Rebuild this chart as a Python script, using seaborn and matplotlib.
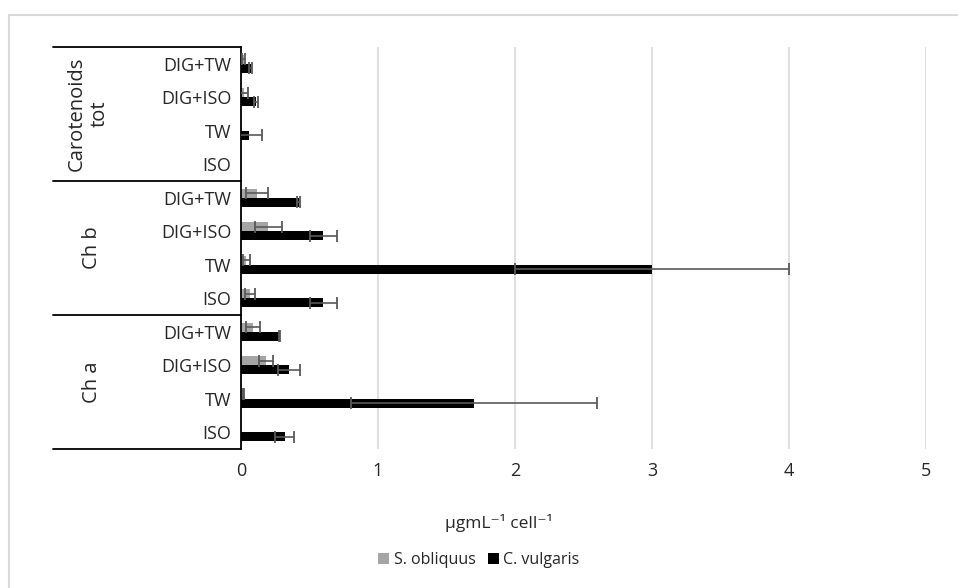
import matplotlib
matplotlib.use("Agg")
import matplotlib.pyplot as plt
from matplotlib.lines import Line2D
from matplotlib.patches import Rectangle
import matplotlib.transforms as mtransforms
import seaborn as sns
import pandas as pd
import numpy as np

# data (top to bottom)
groups = ['Carotenoids\ntot', 'Ch b', 'Ch a']
treatments = ['DIG+TW', 'DIG+ISO', 'TW', 'ISO']
species = ['S. obliquus', 'C. vulgaris']

obliquus = [0.02, 0.02, 0.0, 0.0, 0.12, 0.20, 0.04, 0.065, 0.09, 0.18, 0.02, 0.0]
obliquus_err = [0.012, 0.03, 0.0, 0.0, 0.08, 0.10, 0.025, 0.035, 0.05, 0.05, 0.005, 0.0]
vulgaris = [0.07, 0.11, 0.06, 0.0, 0.42, 0.60, 3.0, 0.60, 0.28, 0.35, 1.7, 0.32]
vulgaris_err = [0.01, 0.012, 0.09, 0.0, 0.008, 0.10, 1.0, 0.10, 0.005, 0.08, 0.9, 0.07]

colors = ['#a5a5a5', '#000000']

rows = [g.replace('\n', ' ') + '|' + t for g in groups for t in treatments]
df = pd.DataFrame({
    'row': rows * 2,
    'value': obliquus + vulgaris,
    'err': obliquus_err + vulgaris_err,
    'species': [species[0]] * len(rows) + [species[1]] * len(rows),
})

sns.set_style('white')
plt.rcParams['font.family'] = ['Open Sans', 'DejaVu Sans']
fs = 13

W, H = 958, 588
fig = plt.figure(figsize=(W / 100, H / 100), dpi=100)
ax_l, ax_r, ax_t, ax_b = 241, 926, 47, 449
ax = fig.add_axes([ax_l / W, 1 - ax_b / H, (ax_r - ax_l) / W, (ax_b - ax_t) / H])

sns.barplot(data=df, x='value', y='row', hue='species', orient='h', order=rows,
            hue_order=species, palette=colors, saturation=1, width=0.55,
            errorbar=None, linewidth=0, ax=ax)

# error bars at bar centres
for cont, sp in zip(ax.containers, species):
    sub = df[df['species'] == sp].set_index('row').loc[rows]
    ys = np.array([p.get_y() + p.get_height() / 2 for p in cont.patches])
    vals = sub['value'].values
    errs = sub['err'].values
    m = errs > 0
    ax.errorbar(vals[m], ys[m], xerr=errs[m], fmt='none', ecolor='#595959',
                elinewidth=1.2, capsize=4.3, capthick=1.3, zorder=3)

ax.set_xlim(0, 5)
ax.set_ylim(len(rows) - 0.5, -0.5)
ax.set_xticks(range(6))
ax.xaxis.grid(True, color='#d9d9d9', linewidth=1.2)
ax.set_axisbelow(True)
ax.tick_params(axis='x', length=0, pad=9, labelsize=fs)
ax.tick_params(axis='y', length=0, pad=7, labelsize=fs)
ax.set_yticks(range(len(rows)))
ax.set_yticklabels(treatments * len(groups))
ax.set_xlabel('')
ax.set_ylabel('')
for s in ['top', 'right', 'bottom']:
    ax.spines[s].set_visible(False)
ax.spines['left'].set_color('black')
ax.spines['left'].set_linewidth(1.3)

# multi-level category axis: separators and group labels
trans = mtransforms.blended_transform_factory(ax.transAxes, ax.transData)
x0 = (53 - ax_l) / (ax_r - ax_l)
for k in range(len(groups) + 1):
    yb = k * len(treatments) - 0.5
    ax.add_line(Line2D([x0, 0], [yb, yb], transform=trans, color='black',
                       linewidth=1.3, clip_on=False))
for k, g in enumerate(groups):
    yc = k * len(treatments) + (len(treatments) - 1) / 2
    xc = ((88 if '\n' in g else 92) - ax_l) / (ax_r - ax_l)
    ax.text(xc, yc, g, transform=trans, rotation=90, ha='center', va='center',
            fontsize=14.5, linespacing=1.2, multialignment='center')

# axis title
fig.text(499 / W, 1 - 523 / H, 'µgmL⁻¹ cell⁻¹', ha='center', va='center', fontsize=12.5)

# legend
ax.legend_.remove()
handles = [Rectangle((0, 0), 1, 1, facecolor=c, edgecolor='none') for c in colors]
fig.legend(handles, species, loc='center', bbox_to_anchor=(479 / W, 1 - 560 / H),
           ncol=2, frameon=False, fontsize=11.5, handlelength=0.65, handleheight=0.65,
           handletextpad=0.3, columnspacing=0.8)

# chart area border
fig.add_artist(Rectangle((9 / W, -0.1), 1.2, 1.1 - 15 / H, transform=fig.transFigure,
                         fill=False, edgecolor='#d9d9d9', linewidth=1.5))

fig.savefig('out.png', dpi=100)
